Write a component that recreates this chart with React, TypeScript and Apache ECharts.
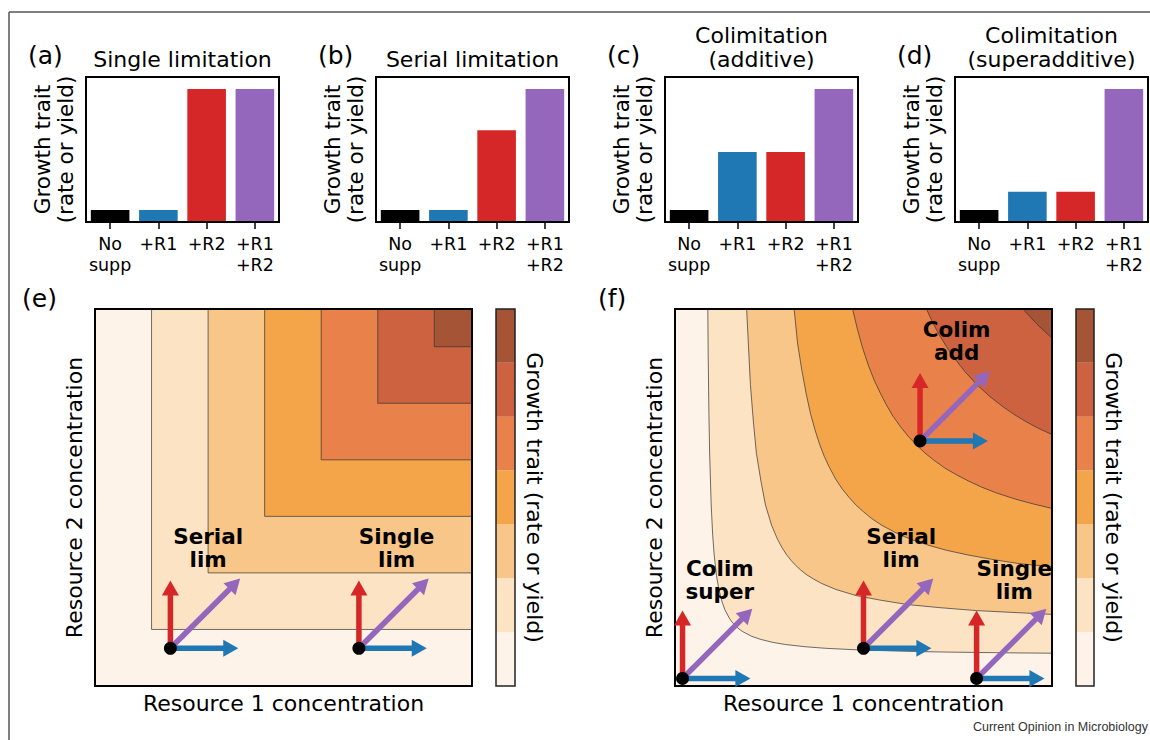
import React, { useEffect, useRef } from 'react';
import * as echarts from 'echarts';

// ---------- DATA ----------
const barCategories = ['No\nsupp', '+R1', '+R2', '+R1\n+R2'];
const barColors = ['#000000', '#1f77b4', '#d62728', '#9467bd'];
const singleLimitation = [0.1, 0.1, 1.1, 1.1];
const serialLimitation = [0.1, 0.1, 0.76, 1.1];
const colimAdditive = [0.1, 0.58, 0.58, 1.1];
const colimSuperadditive = [0.1, 0.25, 0.25, 1.1];
const barTitles = ['Single limitation', 'Serial limitation', 'Colimitation\n(additive)', 'Colimitation\n(superadditive)'];
const barLetters = ['(a)', '(b)', '(c)', '(d)'];

const bandColors = ['#fdf3e9', '#fce3c4', '#f9c68a', '#f4a54a', '#e8824a', '#cd6240', '#a55536'];
const colorbarLevels = ['1', '2', '3', '4', '5', '6', '7'];

// (e) contour levels (L-shaped, Liebig-type response)
const eLevels = [0.15, 0.30, 0.45, 0.60, 0.75, 0.90];

// (f) contour lines (Resource 1, Resource 2)
const fContour1 = [[0.087, 1], [0.088, 0.88], [0.09, 0.72], [0.092, 0.613], [0.096, 0.48], [0.1, 0.4], [0.104, 0.347], [0.11, 0.293], [0.116, 0.258], [0.124, 0.226], [0.132, 0.203], [0.144, 0.18], [0.151, 0.17], [0.16, 0.16], [0.17, 0.151], [0.18, 0.144], [0.203, 0.132], [0.226, 0.124], [0.258, 0.116], [0.293, 0.11], [0.347, 0.104], [0.4, 0.1], [0.48, 0.096], [0.613, 0.092], [0.72, 0.09], [0.88, 0.088], [1, 0.087]];
const fContour2 = [[0.19, 1], [0.2, 0.8], [0.208, 0.7], [0.216, 0.617], [0.228, 0.543], [0.24, 0.48], [0.256, 0.427], [0.272, 0.389], [0.284, 0.367], [0.296, 0.348], [0.308, 0.333], [0.32, 0.32], [0.333, 0.308], [0.348, 0.296], [0.367, 0.284], [0.389, 0.272], [0.427, 0.256], [0.48, 0.24], [0.543, 0.228], [0.617, 0.216], [0.7, 0.208], [0.8, 0.2], [1, 0.19]];
const fContour3 = [[0.316, 1], [0.325, 0.91], [0.336, 0.84], [0.348, 0.775], [0.36, 0.72], [0.372, 0.677], [0.384, 0.64], [0.396, 0.609], [0.408, 0.583], [0.426, 0.549], [0.444, 0.522], [0.462, 0.5], [0.48, 0.48], [0.5, 0.462], [0.522, 0.444], [0.549, 0.426], [0.583, 0.408], [0.609, 0.396], [0.64, 0.384], [0.677, 0.372], [0.72, 0.36], [0.775, 0.348], [0.84, 0.336], [0.91, 0.325], [1, 0.316]];
const fContour4 = [[0.471, 1], [0.483, 0.95], [0.496, 0.902], [0.512, 0.853], [0.528, 0.812], [0.544, 0.778], [0.56, 0.747], [0.578, 0.716], [0.598, 0.688], [0.618, 0.663], [0.64, 0.64], [0.663, 0.618], [0.688, 0.598], [0.716, 0.578], [0.747, 0.56], [0.778, 0.544], [0.812, 0.528], [0.853, 0.512], [0.902, 0.496], [0.95, 0.483], [1, 0.471]];
const fContour5 = [[0.667, 1], [0.683, 0.965], [0.7, 0.933], [0.72, 0.9], [0.74, 0.871], [0.768, 0.835], [0.8, 0.8], [0.835, 0.768], [0.871, 0.74], [0.9, 0.72], [0.933, 0.7], [0.965, 0.683], [1, 0.667]];
const fContour6 = [[0.923, 1], [0.932, 0.99], [0.941, 0.98], [0.96, 0.96], [0.98, 0.941], [0.99, 0.932], [1, 0.923]];

// arrow origins (black dots) and labels
const eOrigins = [[0.2, 0.1], [0.7, 0.1]];
const eLabels = ['Serial\nlim', 'Single\nlim'];
const eLabelPos = [[0.3, 0.366], [0.8, 0.366]];
const fOrigins = [[0.02, 0.02], [0.5, 0.1], [0.8, 0.02], [0.65, 0.65]];
const fLabels = ['Colim\nsuper', 'Serial\nlim', 'Single\nlim', 'Colim\nadd'];
const fLabelPos = [[0.119, 0.281], [0.6, 0.366], [0.9, 0.281], [0.747, 0.915]];
const arrowR2 = [0, 0.18];
const arrowR1 = [0.18, 0];
const arrowBoth = [0.185, 0.185];

// ---------- LAYOUT / STYLE ----------
const FONT = "'DejaVu Sans', sans-serif";
const barLefts = [86, 376, 665, 955];
const BAR_TOP = 77, BAR_W = 193, BAR_H = 145;
const CONT_TOP = 309, CONT_SIZE = 377;
const contLefts = [95, 675];
const cbLefts = [496, 1076];
const cbWidths = [19, 18];

function arrowRenderer(color: string) {
  return (_params: any, api: any) => {
    const x0 = api.value(0), y0 = api.value(1), dx = api.value(2), dy = api.value(3);
    const p0 = api.coord([x0, y0]);
    const p1 = api.coord([x0 + dx, y0 + dy]);
    const vx = p1[0] - p0[0], vy = p1[1] - p0[1];
    const len = Math.hypot(vx, vy) || 1;
    const ux = vx / len, uy = vy / len;
    const nx = -uy, ny = ux;
    const headL = 15, headW = 8.5;
    const bx = p1[0] - ux * headL, by = p1[1] - uy * headL;
    return {
      type: 'group',
      children: [
        { type: 'line', shape: { x1: p0[0], y1: p0[1], x2: bx + ux * 2, y2: by + uy * 2 }, style: { stroke: color, lineWidth: 5.5 } },
        { type: 'polygon', shape: { points: [[p1[0], p1[1]], [bx + nx * headW, by + ny * headW], [bx - nx * headW, by - ny * headW]] }, style: { fill: color } },
      ],
    };
  };
}

function labelRenderer(_params: any, api: any) {
  const p = api.coord([api.value(0), api.value(1)]);
  return {
    type: 'text',
    x: p[0], y: p[1],
    style: {
      text: api.value(2),
      align: 'center', verticalAlign: 'middle',
      fontSize: 21.5, fontWeight: 'bold', fontFamily: FONT, lineHeight: 23,
      fill: '#000',
    },
  };
}

function buildOption() {
  const grids: any[] = [];
  const xAxes: any[] = [];
  const yAxes: any[] = [];
  const series: any[] = [];
  const graphics: any[] = [];

  // ----- bar panels -----
  const barData = [singleLimitation, serialLimitation, colimAdditive, colimSuperadditive];
  barData.forEach((vals, i) => {
    grids.push({ left: barLefts[i], top: BAR_TOP, width: BAR_W, height: BAR_H, show: true, borderColor: '#000', borderWidth: 2, backgroundColor: 'transparent', z: 5, outerBoundsMode: 'none' });
    xAxes.push({
      gridIndex: i, type: 'category', data: barCategories, z: 6,
      axisLine: { show: true, lineStyle: { color: '#000', width: 2 } },
      axisTick: { show: true, alignWithLabel: true, length: 7, lineStyle: { color: '#000', width: 1.5 } },
      axisLabel: { fontSize: 17.5, lineHeight: 21, color: '#000', fontFamily: FONT, margin: 11, interval: 0 },
    });
    yAxes.push({
      gridIndex: i, type: 'value', min: 0, max: 1.2,
      axisLine: { show: false }, axisTick: { show: false }, axisLabel: { show: false }, splitLine: { show: false },
      name: 'Growth trait\n(rate or yield)', nameLocation: 'middle', nameGap: 9, nameRotate: 90,
      nameTextStyle: { fontSize: 21.5, lineHeight: 23, color: '#000', fontFamily: FONT },
    });
    series.push({
      type: 'bar', xAxisIndex: i, yAxisIndex: i, barWidth: '80%',
      data: vals.map((v, j) => ({ value: v, itemStyle: { color: barColors[j] } })),
    });
    const cx = barLefts[i] + BAR_W / 2;
    graphics.push({ type: 'text', x: cx, y: 71, style: { text: barTitles[i], align: 'center', verticalAlign: 'bottom', fontSize: 22, lineHeight: 24, fontFamily: FONT, fill: '#000' } });
    graphics.push({ type: 'text', x: barLefts[i] - 58, y: 55, style: { text: barLetters[i], align: 'left', verticalAlign: 'middle', fontSize: 25, fontFamily: FONT, fill: '#000' } });
  });

  // ----- contour panels -----
  const eContours = eLevels.map((c) => [[c, 1], [c, c], [1, c]]);
  const fContours = [fContour1, fContour2, fContour3, fContour4, fContour5, fContour6];
  const panels = [
    { contours: eContours, origins: eOrigins, labels: eLabels, labelPos: eLabelPos, letter: '(e)', letterX: 22 },
    { contours: fContours, origins: fOrigins, labels: fLabels, labelPos: fLabelPos, letter: '(f)', letterX: 598 },
  ];
  panels.forEach((p, k) => {
    const gi = grids.length;
    grids.push({ left: contLefts[k], top: CONT_TOP, width: CONT_SIZE, height: CONT_SIZE, show: true, borderColor: '#000', borderWidth: 2, backgroundColor: 'transparent', z: 5, outerBoundsMode: 'none' });
    xAxes.push({
      gridIndex: gi, type: 'value', min: 0, max: 1,
      axisLine: { show: false }, axisTick: { show: false }, axisLabel: { show: false }, splitLine: { show: false },
      name: 'Resource 1 concentration', nameLocation: 'middle', nameGap: 6,
      nameTextStyle: { fontSize: 22, color: '#000', fontFamily: FONT, verticalAlign: 'top' },
    });
    yAxes.push({
      gridIndex: gi, type: 'value', min: 0, max: 1,
      axisLine: { show: false }, axisTick: { show: false }, axisLabel: { show: false }, splitLine: { show: false },
      name: 'Resource 2 concentration', nameLocation: 'middle', nameGap: 10, nameRotate: 90,
      nameTextStyle: { fontSize: 22, color: '#000', fontFamily: FONT },
    });
    // base band
    series.push({
      type: 'line', xAxisIndex: gi, yAxisIndex: gi, data: [[0, 0], [1, 0]], symbol: 'none',
      lineStyle: { width: 0, opacity: 0 }, areaStyle: { origin: 'end', color: bandColors[0], opacity: 1 }, z: 1,
    });
    p.contours.forEach((pts, j) => {
      series.push({
        type: 'line', xAxisIndex: gi, yAxisIndex: gi, data: pts, symbol: 'none', smooth: false,
        lineStyle: { width: 0.8, color: 'rgba(55,55,55,0.9)' },
        areaStyle: { origin: 'end', color: bandColors[j + 1], opacity: 1 }, z: 1,
      });
    });
    const arrows = [
      { vec: arrowR2, color: '#d62728' },
      { vec: arrowR1, color: '#1f77b4' },
      { vec: arrowBoth, color: '#9467bd' },
    ];
    arrows.forEach((a) => {
      series.push({
        type: 'custom', xAxisIndex: gi, yAxisIndex: gi, z: 8,
        dimensions: ['x', 'y', 'dx', 'dy'], encode: { x: 0, y: 1 },
        data: p.origins.map((o) => [o[0], o[1], a.vec[0], a.vec[1]]),
        renderItem: arrowRenderer(a.color),
      });
    });
    series.push({
      type: 'scatter', xAxisIndex: gi, yAxisIndex: gi, z: 9, symbolSize: 13,
      itemStyle: { color: '#000', opacity: 1 }, data: p.origins,
    });
    series.push({
      type: 'custom', xAxisIndex: gi, yAxisIndex: gi, z: 10,
      dimensions: ['x', 'y', { name: 'label', type: 'ordinal' }], encode: { x: 0, y: 1 },
      data: p.labels.map((name, j) => [p.labelPos[j][0], p.labelPos[j][1], name]),
      renderItem: labelRenderer,
    });
    graphics.push({ type: 'text', x: p.letterX, y: 298, style: { text: p.letter, align: 'left', verticalAlign: 'middle', fontSize: 25, fontFamily: FONT, fill: '#000' } });

    // colorbar
    const ci = grids.length;
    grids.push({ left: cbLefts[k], top: CONT_TOP, width: cbWidths[k], height: CONT_SIZE, show: true, borderColor: '#222', borderWidth: 1.5, backgroundColor: 'transparent', z: 5, outerBoundsMode: 'none' });
    xAxes.push({ gridIndex: ci, type: 'value', min: 0, max: 1, show: false });
    yAxes.push({
      gridIndex: ci, type: 'category', data: colorbarLevels, position: 'right',
      axisLine: { show: false }, axisTick: { show: false }, axisLabel: { show: false }, splitLine: { show: false },
      name: 'Growth trait (rate or yield)', nameLocation: 'middle', nameGap: 8, nameRotate: -90,
      nameTextStyle: { fontSize: 22, color: '#000', fontFamily: FONT },
    });
    series.push({
      type: 'bar', xAxisIndex: ci, yAxisIndex: ci, barCategoryGap: '0%',
      data: colorbarLevels.map((_, j) => ({ value: 1, itemStyle: { color: bandColors[j] } })),
    });
  });

  // frame + footer
  graphics.push({ type: 'line', shape: { x1: 9, y1: 12, x2: 1150, y2: 12 }, style: { stroke: '#555', lineWidth: 1.5 } });
  graphics.push({ type: 'line', shape: { x1: 9, y1: 12, x2: 9, y2: 740 }, style: { stroke: '#555', lineWidth: 1.5 } });
  graphics.push({ type: 'text', x: 1148, y: 727, style: { text: 'Current Opinion in Microbiology', align: 'right', verticalAlign: 'middle', fontSize: 12.5, fontFamily: "'Liberation Sans', Arial, sans-serif", fill: '#333' } });

  return {
    animation: false,
    backgroundColor: '#ffffff',
    grid: grids,
    xAxis: xAxes,
    yAxis: yAxes,
    series,
    graphic: graphics,
  };
}

export default function App() {
  const ref = useRef<HTMLDivElement>(null);
  useEffect(() => {
    if (!ref.current) return;
    const chart = echarts.init(ref.current, undefined, { renderer: 'svg' });
    chart.setOption(buildOption() as any);
    return () => chart.dispose();
  }, []);
  return <div ref={ref} style={{ position: 'fixed', left: 0, top: 0, width: 1150, height: 740, background: '#fff' }} />;
}
